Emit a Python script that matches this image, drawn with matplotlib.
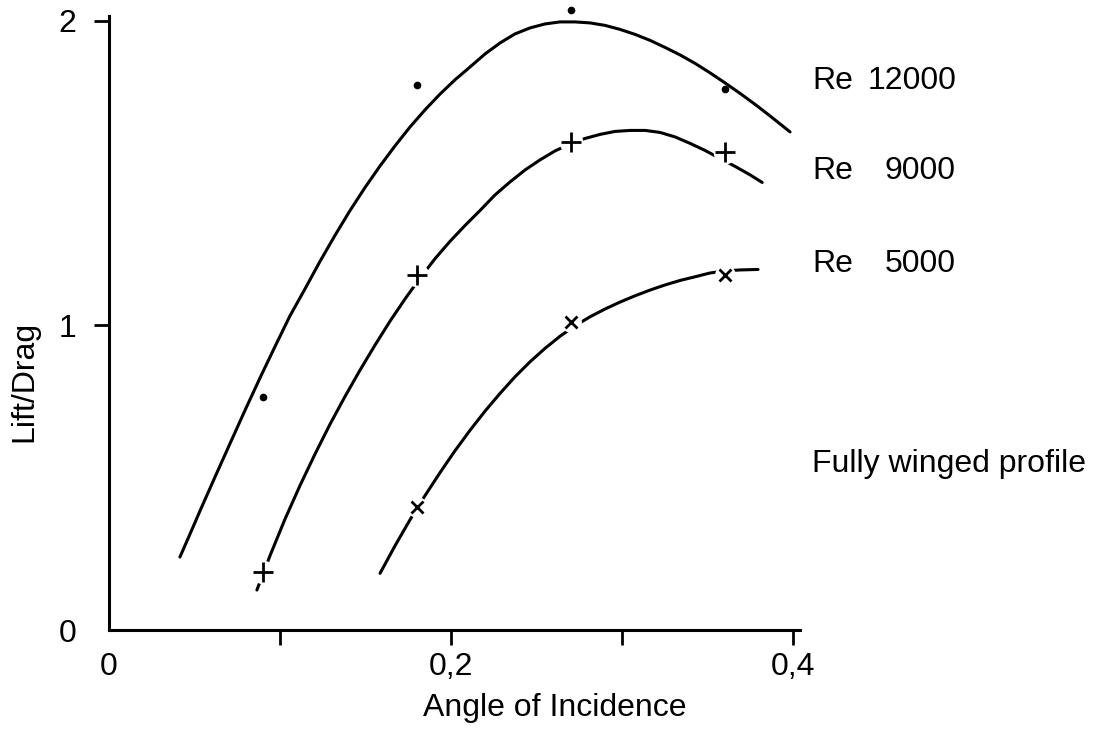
import matplotlib
matplotlib.use("Agg")
import matplotlib.pyplot as plt

plt.rcParams['font.family'] = ['Liberation Sans', 'DejaVu Sans']

# ---- data ----
# measured points (angle of incidence, lift/drag)
marker_x = [0.09, 0.18, 0.27, 0.36]
re12000_pts = [0.765, 1.790, 2.036, 1.777]
re9000_pts = [0.191, 1.166, 1.603, 1.570]
re5000_x = [0.18, 0.27, 0.36]
re5000_pts = [0.405, 1.010, 1.166]

# hand-drawn fitted curves
re12000_cx = [0.0415, 0.0474, 0.0532, 0.0620, 0.0708, 0.0795, 0.0883, 0.0971,
              0.1058, 0.1146, 0.1234, 0.1322, 0.1409, 0.1497, 0.1585, 0.1673,
              0.1760, 0.1848, 0.1936, 0.2023, 0.2111, 0.2199, 0.2287, 0.2374,
              0.2462, 0.2550, 0.2637, 0.2725, 0.2813, 0.2901, 0.2988, 0.3076,
              0.3164, 0.3251, 0.3339, 0.3427, 0.3515, 0.3602, 0.3690, 0.3778,
              0.3865, 0.3953, 0.3982]
re12000_cy = [0.2397, 0.3153, 0.3908, 0.5025, 0.6125, 0.7209, 0.8276, 0.9310,
              1.0312, 1.1199, 1.2105, 1.2962, 1.3770, 1.4529, 1.5238, 1.5901,
              1.6516, 1.7081, 1.7599, 1.8066, 1.8486, 1.8916, 1.9278, 1.9573,
              1.9770, 1.9901, 1.9967, 1.9967, 1.9934, 1.9852, 1.9721, 1.9557,
              1.9360, 1.9130, 1.8883, 1.8604, 1.8292, 1.7964, 1.7619, 1.7258,
              1.6880, 1.6486, 1.6355]

re9000_cx = [0.0865, 0.0942, 0.1029, 0.1117, 0.1205, 0.1292, 0.1380, 0.1468,
             0.1556, 0.1643, 0.1731, 0.1819, 0.1906, 0.1994, 0.2082, 0.2170,
             0.2257, 0.2345, 0.2433, 0.2520, 0.2608, 0.2696, 0.2784, 0.2871,
             0.2959, 0.3047, 0.3135, 0.3222, 0.3310, 0.3398, 0.3485, 0.3573,
             0.3661, 0.3749, 0.3819]
re9000_cy = [0.1314, 0.2447, 0.3639, 0.4745, 0.5780, 0.6752, 0.7668, 0.8535,
             0.9360, 1.0138, 1.0870, 1.1560, 1.2190, 1.2762, 1.3284, 1.3777,
             1.4286, 1.4713, 1.5107, 1.5435, 1.5731, 1.5961, 1.6141, 1.6273,
             1.6371, 1.6404, 1.6404, 1.6338, 1.6190, 1.5977, 1.5747, 1.5484,
             1.5222, 1.4943, 1.4696]

re5000_cx = [0.1585, 0.1673, 0.1760, 0.1848, 0.1936, 0.2023, 0.2111, 0.2199,
             0.2287, 0.2374, 0.2462, 0.2550, 0.2637, 0.2725, 0.2813, 0.2901,
             0.2988, 0.3076, 0.3164, 0.3251, 0.3339, 0.3427, 0.3515, 0.3602,
             0.3690, 0.3795]
re5000_cy = [0.1862, 0.2772, 0.3619, 0.4414, 0.5172, 0.5885, 0.6558, 0.7189,
             0.7773, 0.8315, 0.8808, 0.9251, 0.9645, 0.9990, 1.0286, 1.0542,
             1.0768, 1.0975, 1.1163, 1.1330, 1.1478, 1.1599, 1.1724, 1.1790,
             1.1823, 1.1839]

xtick_pos = [0.0, 0.2, 0.4]
xtick_labels = ["0", "0,2", "0,4"]
xminor_pos = [0.1, 0.3]
ytick_pos = [0, 1, 2]
ytick_labels = ["0", "1", "2"]

labels_re = ["12000", "9000", "5000"]

# ---- figure ----
fig = plt.figure(figsize=(11.14, 7.32), dpi=100)
ax = fig.add_axes([0.0978, 0.1393, 0.6203, 0.8388])
ax.set_xlim(0, 0.404)
ax.set_ylim(0, 2.016)

for s in ['top', 'right']:
    ax.spines[s].set_visible(False)
for s in ['left', 'bottom']:
    ax.spines[s].set_linewidth(2.2)

lw = 2.2
for cx, cy in [(re12000_cx, re12000_cy), (re9000_cx, re9000_cy),
               (re5000_cx, re5000_cy)]:
    ax.plot(cx, cy, color='black', lw=lw, solid_capstyle='round',
            solid_joinstyle='round', zorder=2)

# white halos that break the curves around the markers
ax.plot(marker_x, re9000_pts, linestyle='none', marker='o', ms=17,
        mfc='white', mec='none', zorder=3, clip_on=False)
ax.plot(re5000_x, re5000_pts, linestyle='none', marker='o', ms=15,
        mfc='white', mec='none', zorder=3, clip_on=False)

ax.plot(marker_x, re12000_pts, linestyle='none', marker='o', ms=4.5,
        color='black', zorder=4, clip_on=False)
ax.plot(marker_x, re9000_pts, linestyle='none', marker='+', ms=14, mew=2.0,
        color='black', zorder=4, clip_on=False)
ax.plot(re5000_x, re5000_pts, linestyle='none', marker='x', ms=9, mew=2.0,
        color='black', zorder=4, clip_on=False)

fs = 23
ax.set_xticks(xtick_pos)
ax.set_xticklabels(xtick_labels, fontsize=fs)
ax.set_xticks(xminor_pos, minor=True)
ax.tick_params(axis='x', which='both', direction='out', length=10.5, width=2.0, pad=5)
ax.xaxis.get_major_ticks()[0].tick1line.set_visible(False)

ax.set_yticks(ytick_pos)
ax.set_yticklabels(ytick_labels, fontsize=fs)
ax.tick_params(axis='y', direction='out', length=10.5, width=2.0, pad=13)
ax.yaxis.get_major_ticks()[0].tick1line.set_visible(False)

ax.set_xlabel("Angle of Incidence", fontsize=fs)
ax.xaxis.label.set_va('center')
ax.xaxis.set_label_coords(0.645, -0.127)
ax.set_ylabel("Lift/Drag", fontsize=fs)
ax.yaxis.label.set_va('center')
ax.yaxis.set_label_coords(-0.123, 0.405)

# curve labels (figure pixel positions converted to figure fraction)
W, H = 1114.0, 732.0
label_y = [81, 171, 264]
for txt, yy in zip(labels_re, label_y):
    fig.text(812 / W, 1 - yy / H, "Re", fontsize=fs, ha='left', va='center')
    fig.text(956 / W, 1 - yy / H, txt, fontsize=fs, ha='right', va='center')
fig.text(812 / W, 1 - 464 / H, "Fully winged profile", fontsize=fs,
         ha='left', va='center')

fig.savefig("out.png", dpi=100, facecolor='white')
